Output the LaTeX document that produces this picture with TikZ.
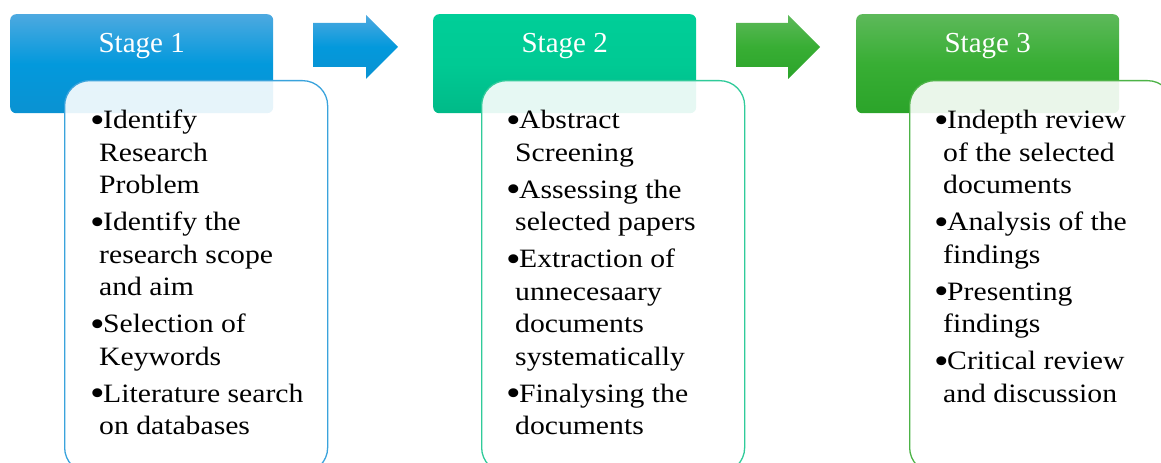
\documentclass[tikz,border=0pt]{standalone}
\usepackage{fontspec}
\usepackage{graphicx}
\setmainfont{Liberation Serif}
\newfontfamily\bodyfont[FakeStretch=1.12]{Liberation Serif}
\usetikzlibrary{calc}
\definecolor{bluetop}{HTML}{4DA9E0}
\definecolor{bluemid}{HTML}{0399DC}
\definecolor{bluebot}{HTML}{0A92D2}
\definecolor{tealtop}{HTML}{00CE98}
\definecolor{tealmid}{HTML}{00CA94}
\definecolor{tealbot}{HTML}{00BA88}
\definecolor{greentop}{HTML}{5DB95A}
\definecolor{greenmid}{HTML}{38AE34}
\definecolor{greenbot}{HTML}{2BA42A}
\definecolor{blueline}{HTML}{3AA3DC}
\definecolor{tealline}{HTML}{30CB9A}
\definecolor{greenline}{HTML}{4DB347}
\tikzset{
  head/.style={rounded corners=6bp, minimum width=263bp, minimum height=99bp, inner sep=0pt, anchor=north west},
  body/.style={draw, line width=1.3bp, rounded corners=25bp, fill=white, fill opacity=0.9, minimum width=263bp, minimum height=392bp, inner sep=0pt, anchor=north west},
  items/.style={align=left, anchor=north west, inner sep=0pt, text=black, font=\bodyfont\fontsize{26.5bp}{32.5bp}\selectfont},
  stagelbl/.style={text=white, anchor=base, inner sep=0pt, font=\fontsize{29bp}{30bp}\selectfont},
}
\newcommand\bul{\makebox[12bp][l]{\hspace*{-1bp}\raisebox{-3.5bp}{\scalebox{1.4}{\textbullet}}}}
\newcommand\cnt{\hspace*{8bp}}
\begin{document}
\begin{tikzpicture}[x=1bp,y=-1bp]
\useasboundingbox (0,0) rectangle (1161,463);
\clip (0,0) rectangle (1161,463);
% headers
\node[head, top color=bluetop, bottom color=bluebot, middle color=bluemid] (h1) at (10,14) {};
\node[head, top color=tealtop, bottom color=tealbot, middle color=tealmid] (h2) at (433,14) {};
\node[head, top color=greentop, bottom color=greenbot, middle color=greenmid] (h3) at (856,14) {};
\node[stagelbl] (t1) at ([yshift=-39bp]h1.north) {Stage 1};
\node[stagelbl] (t2) at ([yshift=-39bp]h2.north) {Stage 2};
\node[stagelbl] (t3) at ([yshift=-39bp]h3.north) {Stage 3};
% bodies
\node[body, draw=blueline] (b1) at (64,80) {};
\node[body, draw=tealline] (b2) at (481,80) {};
\node[body, draw=greenline] (b3) at (909,80) {};
% items
\node[items] (i1) at ([xshift=27bp,yshift=-30bp]b1.north west) {%
\bul Identify\\ \cnt Research\\ \cnt Problem\\[4.5bp]
\bul Identify the\\ \cnt research scope\\ \cnt and aim\\[4.5bp]
\bul Selection of\\ \cnt Keywords\\[4.5bp]
\bul Literature search\\ \cnt on databases};
\node[items] (i2) at ([xshift=26bp,yshift=-30bp]b2.north west) {%
\bul Abstract\\ \cnt Screening\\[4.5bp]
\bul Assessing the\\ \cnt selected papers\\[4.5bp]
\bul Extraction of\\ \cnt unnecesaary\\ \cnt documents\\ \cnt systematically\\[4.5bp]
\bul Finalysing the\\ \cnt documents};
\node[items] (i3) at ([xshift=26bp,yshift=-30bp]b3.north west) {%
\bul Indepth review\\ \cnt of the selected\\ \cnt documents\\[4.5bp]
\bul Analysis of the\\ \cnt findings\\[4.5bp]
\bul Presenting\\ \cnt findings\\[4.5bp]
\bul Critical review\\ \cnt and discussion};
% arrows
\shade[top color=bluetop, bottom color=bluebot, middle color=bluemid]
  (313,23) -- (366,23) -- (366,15) -- (398,47) -- (366,79) -- (366,67) -- (313,67) -- cycle;
\shade[top color=greentop, bottom color=greenbot, middle color=greenmid]
  (736,23) -- (788,23) -- (788,15) -- (820,47) -- (788,79) -- (788,67) -- (736,67) -- cycle;
\end{tikzpicture}
\end{document}
